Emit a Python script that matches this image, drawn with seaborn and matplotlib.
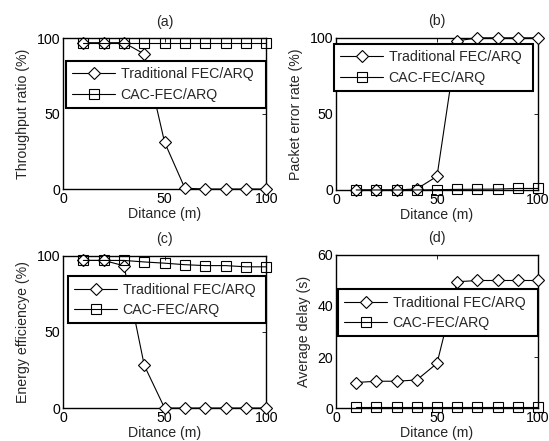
import pandas as pd
import matplotlib
matplotlib.use("Agg")
import matplotlib.pyplot as plt
import seaborn as sns

sns.set_theme(style='white', context='notebook')
plt.rcParams['font.family'] = ['Liberation Sans', 'DejaVu Sans']

# Data
distance = [10, 20, 30, 40, 50, 60, 70, 80, 90, 100]

thr_trad = [97, 97, 97, 89.5, 31, 0.5, 0, 0, 0, 0]
thr_cac = [97, 97, 97, 97, 97, 97, 97, 97, 97, 97]

per_trad = [0, 0, 0, 0.7, 9, 98, 100, 100, 100, 100]
per_cac = [0, 0, 0, 0, 0.2, 0.4, 0.5, 0.6, 1, 1]

ee_trad = [97, 97, 93.5, 28, 0, 0, 0, 0, 0, 0]
ee_cac = [97, 97, 97, 96, 95.2, 94.2, 93.6, 93.6, 92.8, 92.8]

dl_trad = [10, 10.5, 10.5, 11, 17.5, 49.5, 50, 50, 50, 50]
dl_cac = [0.5, 0.5, 0.5, 0.5, 0.5, 0.5, 0.5, 0.5, 0.5, 0.5]

labels = ['Traditional FEC/ARQ', 'CAC-FEC/ARQ']
FS = 10.2

panels = [
    # title, ylabel, trad, cac, ymax, yticks, axes rect, legend bbox
    ('(a)', 'Throughput ratio (%)', thr_trad, thr_cac, 100, [0, 50, 100],
     [0.1148, 0.5714, 0.370, 0.342], (0.015, 0.536, 0.985, 0.312)),
    ('(b)', 'Packet error rate (%)', per_trad, per_cac, 100, [0, 50, 100],
     [0.612, 0.5692, 0.368, 0.345], (-0.01, 0.651, 0.985, 0.303)),
    ('(c)', 'Energy efficiencye (%)', ee_trad, ee_cac, 100, [0, 50, 100],
     [0.1148, 0.0748, 0.370, 0.345], (0.025, 0.556, 0.975, 0.307)),
    ('(d)', 'Average delay (s)', dl_trad, dl_cac, 60, [0, 20, 40, 60],
     [0.612, 0.0748, 0.368, 0.347], (0.01, 0.468, 0.99, 0.298)),
]

fig = plt.figure(figsize=(5.49, 4.41), dpi=100)

for title, ylab, trad, cac, ymax, yt, rect, lbox in panels:
    ax = fig.add_axes(rect)
    df = pd.DataFrame({'Distance': distance, 'Trad': trad, 'CAC': cac})
    sns.lineplot(ax=ax, data=df, x='Distance', y='Trad', color='black', lw=0.8,
                 marker='D', markersize=6.5, markerfacecolor='white',
                 markeredgecolor='black', markeredgewidth=0.8, label=labels[0],
                 clip_on=False, zorder=3)
    sns.lineplot(ax=ax, data=df, x='Distance', y='CAC', color='black', lw=0.8,
                 marker='s', markersize=7, markerfacecolor='none',
                 markeredgecolor='black', markeredgewidth=0.8, label=labels[1],
                 clip_on=False, zorder=3)
    ax.set_xlim(0, 100)
    ax.set_ylim(0, ymax)
    ax.set_xticks([0, 50, 100])
    ax.set_yticks(yt)
    ax.set_xlabel('Ditance (m)', fontsize=FS, labelpad=1)
    ax.set_ylabel(ylab, fontsize=FS, labelpad=5)
    ax.set_title(title, fontsize=FS, pad=9)
    ax.tick_params(direction='in', top=True, right=True, length=3, width=0.6,
                   labelsize=FS, pad=2, color='black', labelcolor='black')
    for s in ax.spines.values():
        s.set_color('black')
        s.set_linewidth(1.0)
    leg = ax.legend(loc='lower left', bbox_to_anchor=lbox, mode='expand',
                    fontsize=FS, frameon=True, fancybox=False, borderaxespad=0,
                    handlelength=3.0, handletextpad=0.4, labelspacing=0.45,
                    borderpad=0.45)
    leg.get_frame().set_edgecolor('black')
    leg.get_frame().set_linewidth(1.5)
    leg.get_frame().set_alpha(1)
    leg.set_zorder(5)

fig.savefig('out.png', dpi=100)
